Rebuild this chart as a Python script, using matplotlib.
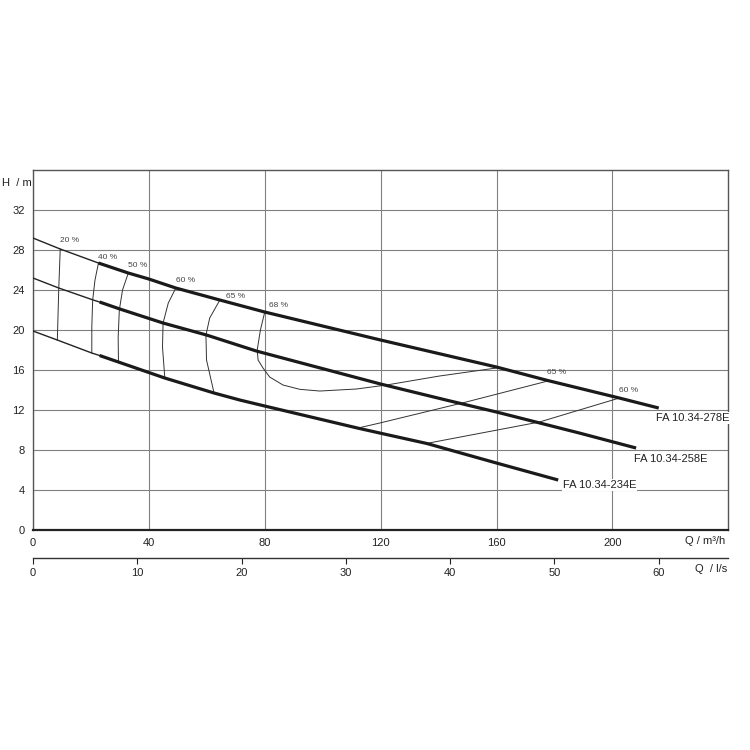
import numpy as np
import matplotlib
matplotlib.use('Agg')
import matplotlib.pyplot as plt

plt.rcParams['font.family'] = ['Liberation Sans Narrow', 'Liberation Sans', 'DejaVu Sans']

# pump head curves, Q in m3/h, H in m
q_278 = [0, 9.4, 22.6, 32.9, 40, 49.3, 64.5, 80, 120, 160, 177.7, 202.4, 216]
h_278 = [29.2, 28.1, 26.7, 25.7, 25.1, 24.2, 23.0, 21.8, 19.0, 16.3, 14.95, 13.2, 12.2]
q_258 = [0, 8.9, 20.8, 23, 30, 44.9, 59.9, 77.1, 120, 142.6, 160, 188.6, 208.2]
h_258 = [25.2, 24.2, 23.0, 22.8, 22.1, 20.7, 19.5, 17.9, 14.6, 13.0, 11.8, 9.7, 8.2]
q_234 = [0, 8.4, 20.3, 23, 29.5, 45.5, 62.5, 71.4, 80, 112, 120, 136, 160, 181.3]
h_234 = [19.9, 19.0, 17.7, 17.45, 16.8, 15.2, 13.7, 13.0, 12.4, 10.2, 9.68, 8.65, 6.7, 5.0]
q_thick = [22.6, 23, 23]
names = ['FA 10.34-278E', 'FA 10.34-258E', 'FA 10.34-234E']
name_pos = [(215.2, 11.2), (207.6, 7.1), (182.8, 4.5)]

# iso-efficiency lines
eta_labels = ['20 %', '40 %', '50 %', '60 %', '65 %', '68 %', '65 %', '60 %']
eta_q = [
    [9.4, 8.9, 8.4],
    [22.6, 21.4, 20.6, 20.3, 20.3],
    [32.9, 30.9, 29.8, 29.4, 29.5],
    [49.3, 46.7, 44.9, 44.7, 45.5],
    [64.5, 61.0, 59.7, 59.9, 62.5],
    [80, 78.5, 77.4, 77.7, 79.4, 81.7, 86.3, 92.1, 99, 111.6, 122, 140.3, 159.9],
    [112.2, 119.7, 149.5, 177.7],
    [135.7, 174.8, 188.6, 202.4],
]
eta_h = [
    [28.1, 24.2, 19.0],
    [26.7, 25.0, 23.0, 20.3, 17.7],
    [25.7, 24.0, 22.0, 19.3, 16.8],
    [24.2, 22.7, 20.7, 18.3, 15.2],
    [23.0, 21.2, 19.5, 17.0, 13.7],
    [21.8, 20.0, 18.0, 17.0, 16.2, 15.3, 14.5, 14.07, 13.9, 14.1, 14.5, 15.4, 16.2],
    [10.2, 10.7, 12.8, 14.9],
    [8.65, 10.8, 12.0, 13.2],
]
eta_label_pos = [(9.3, 29.0), (22.4, 27.3), (32.8, 26.5), (49.3, 25.0),
                 (66.6, 23.4), (81.4, 22.5), (177.6, 15.8), (202.4, 14.0)]

fig = plt.figure(figsize=(7.5, 7.5), dpi=100)
ax = fig.add_axes([0.044, 0.2933, 0.927, 0.48])

ax.set_xlim(0, 240)
ax.set_ylim(0, 36)
ax.set_xticks(np.arange(0, 201, 40))
ax.set_yticks(np.arange(0, 33, 4))
ax.grid(True, color='#808080', lw=0.8)
ax.tick_params(length=0, labelsize=8, colors='#222222', pad=6)
for s in ax.spines.values():
    s.set_color('#555555')
    s.set_linewidth(1.0)
ax.spines['bottom'].set_color('#222222')
ax.spines['bottom'].set_linewidth(1.6)

for q, h, qt in zip([q_278, q_258, q_234], [h_278, h_258, h_234], q_thick):
    q = np.array(q); h = np.array(h)
    ht = np.interp(qt, q, h)
    thin = q < qt
    ax.plot(np.append(q[thin], qt), np.append(h[thin], ht), color='#222222', lw=1.0, zorder=3)
    thick = q > qt
    ax.plot(np.insert(q[thick], 0, qt), np.insert(h[thick], 0, ht), color='#1a1a1a',
            lw=2.3, solid_capstyle='butt', solid_joinstyle='round', zorder=4)

for (x, y), t in zip(name_pos, names):
    ax.text(x, y, t, fontsize=8, color='#222222', va='center', ha='left',
            bbox=dict(facecolor='white', edgecolor='none', pad=0.5), zorder=5)

for q, h in zip(eta_q, eta_h):
    ax.plot(q, h, color='#333333', lw=0.7, zorder=2)
for (x, y), t in zip(eta_label_pos, eta_labels):
    ax.text(x, y, t, fontsize=6, color='#444444', va='center', ha='left', zorder=5)

ax.text(-0.045, 0.965, 'H  / m', transform=ax.transAxes, fontsize=8,
        ha='left', va='center', color='#222222')
ax.text(0.995, -0.03, 'Q / m³/h', transform=ax.transAxes, fontsize=8,
        ha='right', va='center', color='#222222')

sec = ax.secondary_xaxis(-0.078, functions=(lambda x: x / 3.6, lambda x: x * 3.6))
sec.set_xticks(np.arange(0, 61, 10))
sec.tick_params(direction='out', length=4, labelsize=8, colors='#222222', pad=3)
sec.spines['bottom'].set_color('#333333')
sec.spines['bottom'].set_linewidth(1.0)
ax.text(0.998, -0.108, 'Q  / l/s', transform=ax.transAxes, fontsize=8,
        ha='right', va='center', color='#222222')

fig.savefig('out.png', dpi=100, facecolor='white')
